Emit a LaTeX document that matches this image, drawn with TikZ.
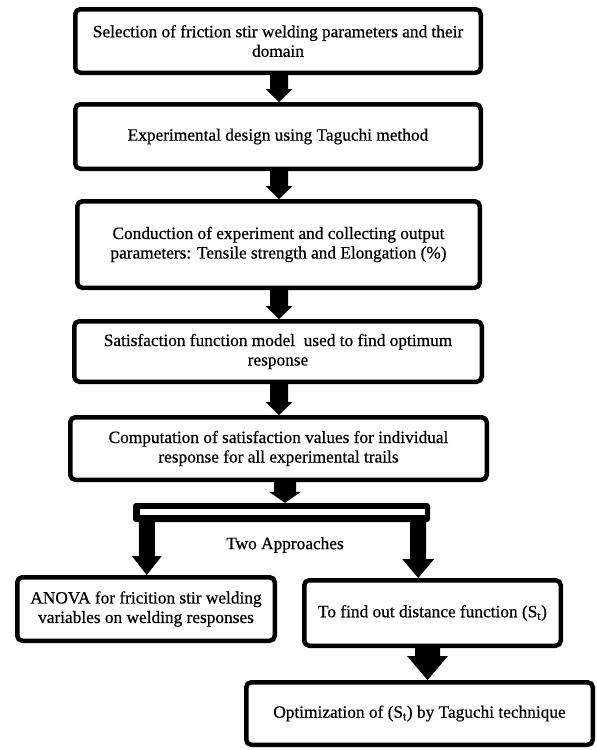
\documentclass[tikz,border=0pt]{standalone}
\usepackage{fontspec}
\setmainfont{Liberation Serif}[FakeBold=0.6]
\usetikzlibrary{calc}
\tikzset{
  box/.style={draw=black, line width=4.5pt, rounded corners=5pt, align=center,
    inner sep=0pt, fill=white, font=\fontsize{17.3}{19.5}\selectfont},
  lbl/.style={inner sep=0pt, font=\fontsize{17.3}{19.5}\selectfont},
}
% block arrow: from, to, shaft half width, head half width, head length
\newcommand\blockarrow[5]{%
  \fill[black] let \p1=(#1), \p2=(#2) in
    (\x1-#3,\y1) -- (\x1+#3,\y1) -- (\x1+#3,\y2+#5) -- (\x1+#4,\y2+#5)
    -- (\x1,\y2) -- (\x1-#4,\y2+#5) -- (\x1-#3,\y2+#5) -- cycle;}
\begin{document}
\begin{tikzpicture}[x=1pt,y=-1pt]
\useasboundingbox[fill=white] (0,0) rectangle (597,750);

\node[box, minimum width=405.5pt, minimum height=63.5pt] (b1) at (278,41)
  {Selection of friction stir welding parameters and their\\domain};
\node[box, minimum width=405.5pt, minimum height=64.5pt] (b2) at (278,136.5)
  {Experimental design using Taguchi method};
\node[box, minimum width=402.5pt, minimum height=86.5pt] (b3) at (278.5,244.5)
  {Conduction of experiment and collecting output\\parameters: Tensile strength and Elongation (\%)};
\node[box, minimum width=407.5pt, minimum height=60.5pt] (b4) at (278,351.5)
  {Satisfaction function model\ \ used to find optimum\\response};
\node[box, minimum width=416.5pt, minimum height=62.5pt] (b5) at (278.5,448.5)
  {Computation of satisfaction values for individual\\response for all experimental trails};

\node[fill=black, rounded corners=3pt, minimum width=297pt, minimum height=19pt, inner sep=0pt] (bar) at (281.5,512.5) {};
\node[fill=white, minimum width=285pt, minimum height=6pt, inner sep=0pt] (barin) at (282.5,512) {};

\node[lbl] (two) at (285,545) {Two Approaches};

\node[box, minimum width=257.5pt, minimum height=63.5pt] (anova) at (146,609)
  {ANOVA for fricition stir welding\\variables on welding responses};
\node[box, minimum width=256.5pt, minimum height=65.5pt] (dist) at (432.5,613)
  {To find out distance function (S\textsubscript{t})};
\node[box, minimum width=346.5pt, minimum height=62.5pt] (opt) at (419.5,713.5)
  {Optimization of (S\textsubscript{t}) by Taguchi technique};

\coordinate (a1s) at ($(b1.south)+(1,0)$);
\coordinate (a1e) at ($(b2.north)+(1,0)$);
\blockarrow{a1s}{a1e}{9pt}{13.5pt}{13pt}
\coordinate (a2s) at ($(b2.south)+(1,0)$);
\coordinate (a2e) at ($(b3.north)+(1,0)$);
\blockarrow{a2s}{a2e}{9pt}{13.5pt}{13pt}
\coordinate (a3s) at ($(b3.south)+(0.5,0)$);
\coordinate (a3e) at ($(b4.north)+(0.5,0)$);
\blockarrow{a3s}{a3e}{9pt}{13.5pt}{13pt}
\coordinate (a4s) at ($(b4.south)+(1,0)$);
\coordinate (a4e) at ($(b5.north)+(1,0)$);
\blockarrow{a4s}{a4e}{9pt}{13.5pt}{13pt}

\coordinate (a5s) at (b5.south -| two.north);
\coordinate (a5e) at (bar.north -| two.north);
\blockarrow{a5s}{a5e}{11pt}{16pt}{11pt}

\coordinate (lefts) at ($(bar.south west)+(14,-1)$);
\coordinate (lefte) at (lefts |- anova.north);
\blockarrow{lefts}{lefte}{8pt}{15pt}{19pt}
\coordinate (rights) at ($(bar.south east)+(-12,-1)$);
\coordinate (righte) at (rights |- dist.north);
\blockarrow{rights}{righte}{8pt}{16pt}{19pt}

\coordinate (a6s) at ($(dist.south)+(-5,0)$);
\coordinate (a6e) at (a6s |- opt.north);
\blockarrow{a6s}{a6e}{12.5pt}{20.5pt}{24pt}
\end{tikzpicture}
\end{document}
